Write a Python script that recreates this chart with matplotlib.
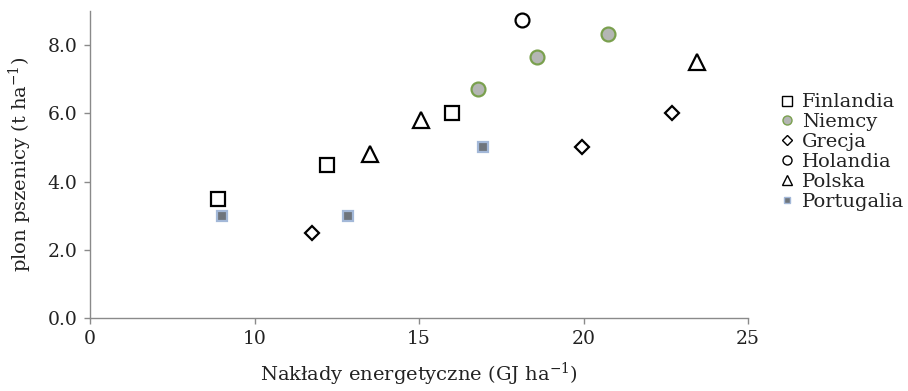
import numpy as np
import matplotlib.pyplot as plt

plt.rcParams['font.family'] = ['DejaVu Serif']
plt.rcParams['mathtext.fontset'] = 'dejavuserif'

# nakłady energetyczne (GJ/ha) i plon (t/ha)
fin_x = [8.9, 12.2, 16.0]
fin_y = [3.5, 4.5, 6.0]
niem_x = [16.8, 18.6, 20.75]
niem_y = [6.7, 7.65, 8.33]
grec_x = [11.75, 19.95, 22.7]
grec_y = [2.5, 5.0, 6.0]
hol_x = [18.13]
hol_y = [8.74]
pol_x = [13.5, 15.05, 23.45]
pol_y = [4.8, 5.8, 7.5]
port_x = [9.0, 12.85, 16.95]
port_y = [3.0, 3.0, 5.0]

xticks = [5, 10, 15, 20, 25]
xtick_labels = ['0', '10', '15', '20', '25']
yticks = [0, 2, 4, 6, 8]

fig = plt.figure(figsize=(9.08, 3.91), dpi=100)
ax = fig.add_axes([90/908, 73/391, 658/908, 307/391])

ax.plot(fin_x, fin_y, 's', ms=10, mfc='white', mec='black', mew=1.6, label='Finlandia')
ax.plot(niem_x, niem_y, 'o', ms=10, mfc='#b4b6b4', mec='#7aa04e', mew=1.6, label='Niemcy')
ax.plot(grec_x, grec_y, 'D', ms=7.5, mfc='white', mec='black', mew=1.6, label='Grecja')
ax.plot(hol_x, hol_y, 'o', ms=10, mfc='white', mec='black', mew=1.6, label='Holandia')
ax.plot(pol_x, pol_y, '^', ms=11, mfc='white', mec='black', mew=1.6, label='Polska')
ax.plot(port_x, port_y, 's', ms=7, mfc='#6f757c', mec='#a3b8d8', mew=1.6, label='Portugalia')

ax.set_xlim(5, 25)
ax.set_ylim(0, 9)
ax.set_xticks(xticks)
ax.set_xticklabels(xtick_labels)
ax.set_yticks(yticks)
ax.set_yticklabels([f'{v:.1f}' for v in yticks])

for s in ['top', 'right']:
    ax.spines[s].set_visible(False)
for s in ['left', 'bottom']:
    ax.spines[s].set_color('#8a8a8a')
    ax.spines[s].set_linewidth(1.0)
ax.tick_params(colors='#8a8a8a', labelcolor='#222222', labelsize=13.5, length=4, width=1.0,
               pad=5)

ax.set_xlabel('Nakłady energetyczne (GJ ha$^{-1}$)', fontsize=14, color='#222222', labelpad=9)
ax.set_ylabel('plon pszenicy (t ha$^{-1}$)', fontsize=14, color='#222222', labelpad=10)

leg = ax.legend(loc='center left', bbox_to_anchor=(1.035, 0.54), frameon=False, fontsize=14,
                markerscale=0.65, handlelength=0.8, handletextpad=0.4, labelspacing=0.1,
                borderaxespad=0)
for h in leg.legend_handles:
    h.set_markeredgewidth(1.0)
for t in leg.get_texts():
    t.set_color('#222222')

fig.savefig('out.png', dpi=100)
